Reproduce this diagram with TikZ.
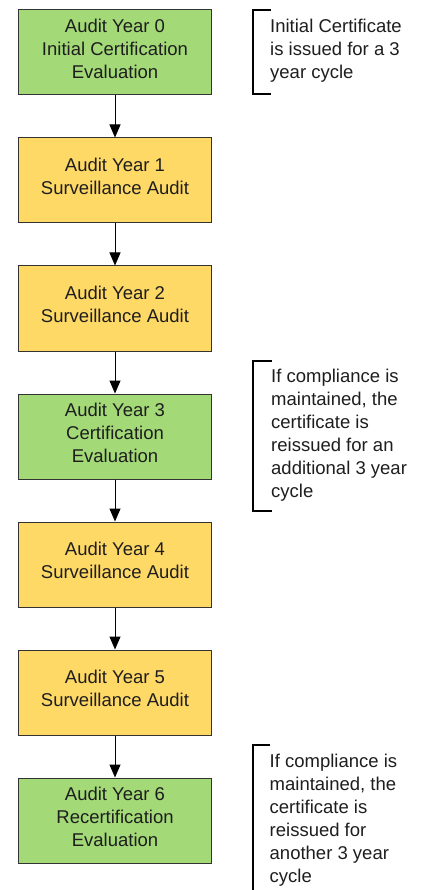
\documentclass[tikz,border=0pt]{standalone}
\usepackage{fontspec}
\setmainfont{Liberation Sans}
\usetikzlibrary{arrows.meta}

\definecolor{certgreen}{HTML}{A3D977}
\definecolor{survyellow}{HTML}{FFD966}
\definecolor{edgegray}{HTML}{333333}
\definecolor{inkcol}{HTML}{1E1E1E}

% invisible struts: extra depth under the last line of a box label,
% fixed height above the first line of a side note
\newcommand{\lowpad}{\rule[-8pt]{0pt}{8pt}}
\newcommand{\toppad}{\rule{0pt}{15pt}}

\tikzset{
  auditbox/.style={draw=edgegray, line width=1pt, minimum width=193pt,
    minimum height=85pt, inner sep=0pt, align=center, text=inkcol,
    font=\fontsize{18.5}{23}\selectfont},
  certbox/.style={auditbox, fill=certgreen},
  survbox/.style={auditbox, fill=survyellow},
  flow/.style={draw=black, line width=1pt, -{Triangle[length=13pt,width=11pt]}},
  sidenote/.style={anchor=north west, align=left, inner sep=0pt, text=inkcol,
    font=\fontsize{18.5}{23}\selectfont},
  bracketline/.style={draw=black, line width=2pt}
}

\begin{document}
\begin{tikzpicture}[x=1pt, y=-1pt]
  \fill[white] (0,0) rectangle (420,890);
  \useasboundingbox (0,0) rectangle (420,890);

  % audit sequence
  \node[certbox] (y0) at (115, 52.5) {Audit Year 0\\Initial Certification\\Evaluation\lowpad};
  \node[survbox] (y1) at (115,180.5) {Audit Year 1\\Surveillance Audit\lowpad};
  \node[survbox] (y2) at (115,308.5) {Audit Year 2\\Surveillance Audit\lowpad};
  \node[certbox] (y3) at (115,436.5) {Audit Year 3\\Certification\\Evaluation\lowpad};
  \node[survbox] (y4) at (115,564.5) {Audit Year 4\\Surveillance Audit\lowpad};
  \node[survbox] (y5) at (115,692.5) {Audit Year 5\\Surveillance Audit\lowpad};
  \node[certbox] (y6) at (115,820.5) {Audit Year 6\\Recertification\\Evaluation\lowpad};

  \draw[flow] (y0) -- (y1);
  \draw[flow] (y1) -- (y2);
  \draw[flow] (y2) -- (y3);
  \draw[flow] (y3) -- (y4);
  \draw[flow] (y4) -- (y5);
  \draw[flow] (y5) -- (y6);

  % side notes with their brackets
  \draw[bracketline] (271,10) -- (253,10) -- (253,94) -- (271,94);
  \node[sidenote] (n0) at (270,17.3) {\toppad Initial Certificate\\is issued for a 3\\year cycle};

  \draw[bracketline] (271.5,361) -- (253,361) -- (253,511) -- (271.5,511);
  \node[sidenote] (n3) at (271,367) {\toppad If compliance is\\maintained, the\\certificate is\\reissued for an\\additional 3 year\\cycle};

  \draw[bracketline] (270,745) -- (253,745) -- (253,895);
  \node[sidenote] (n6) at (269.5,752) {\toppad If compliance is\\maintained, the\\certificate is\\reissued for\\another 3 year\\cycle};
\end{tikzpicture}
\end{document}
